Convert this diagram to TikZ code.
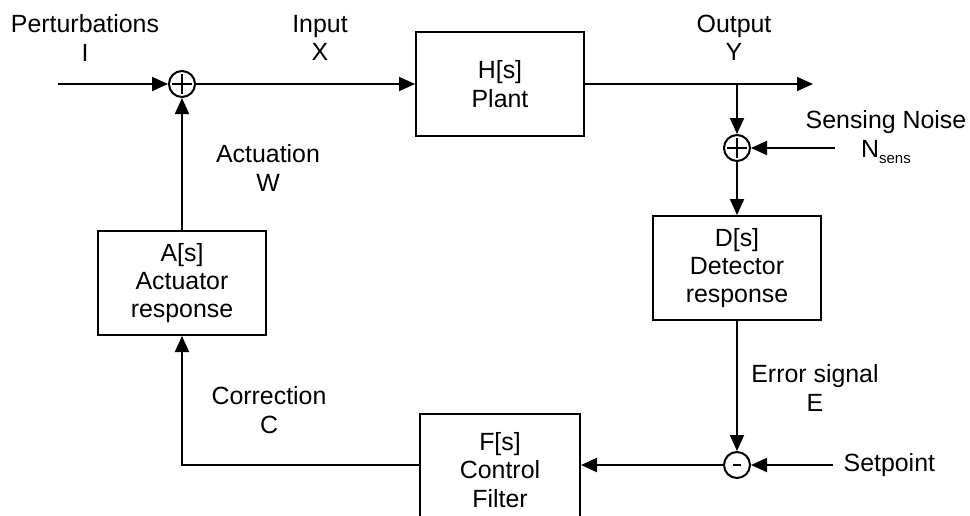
\documentclass[tikz,border=0pt]{standalone}
\usepackage{fontspec}
\setmainfont{Liberation Sans}
\usetikzlibrary{arrows.meta}
\begin{document}
\begin{tikzpicture}[x=0.5pt,y=-0.5pt,line width=1pt,>={Triangle[length=8pt,width=7pt]},
	font=\fontsize{12.45}{14.2}\selectfont,
	block/.style={draw,align=center,minimum width=84pt,minimum height=52pt,inner sep=0pt},
	sumnode/.style={circle,draw,minimum size=13pt,inner sep=0pt},
	sumplus/.style={sumnode,path picture={
		\draw ([xshift=-4.8pt]path picture bounding box.center)--([xshift=4.8pt]path picture bounding box.center)
			([yshift=-4.8pt]path picture bounding box.center)--([yshift=4.8pt]path picture bounding box.center);}},
	summinus/.style={sumnode,path picture={
		\draw ([xshift=-2pt]path picture bounding box.center)--([xshift=2pt]path picture bounding box.center);}},
	lbl/.style={align=center}]
	\clip (0,0) rectangle (970,515);
	% blocks and junctions
	\node[sumplus] (sumin) at (182,84) {};
	\node[block] (plant) at (500,84) {H[s]\\Plant};
	\node[sumplus] (sumnoise) at (737,148) {};
	\node[block] (detector) at (737,268) {D[s]\\Detector\\response};
	\node[summinus] (sumerr) at (737,465) {};
	\node[block,anchor=north,minimum width=80pt,minimum height=56pt] (filter) at (500,413) {F[s]\\Control\\Filter};
	\node[block] (actuator) at (182,283) {A[s]\\Actuator\\response};
	% free ends
	\coordinate (in) at (58,84);
	\coordinate (out) at (813,84);
	\coordinate (branch) at (737,84);
	\coordinate (noise) at (835,148);
	\coordinate (setp) at (833,465);
	% connectors
	\draw[->] (in)--(sumin);
	\draw[->] (sumin)--(plant);
	\draw[->] (plant)--(out);
	\draw[->] (branch)--(sumnoise);
	\draw[->] (noise)--(sumnoise);
	\draw[->] (sumnoise)--(detector);
	\draw[->] (detector)--(sumerr);
	\draw[->] (setp)--(sumerr);
	\draw[->] (sumerr)--(sumerr-|filter.east);
	\draw[->] (filter.west|-sumerr)-|(actuator);
	\draw[->] (actuator)--(sumin);
	% signal labels
	\node[lbl] (pert) at (85,38) {Perturbations\\I};
	\node[lbl] (input) at (320,38) {Input\\X};
	\node[lbl] (output) at (734,38) {Output\\Y};
	\node[lbl] (noiselbl) at (886,137) {Sensing Noise\\N\raisebox{-3pt}{\fontsize{7.5}{8}\selectfont sens}};
	\node[lbl] (act) at (268,168) {Actuation\\W};
	\node[lbl] (err) at (815,388) {Error signal\\E};
	\node[lbl] (corr) at (269,410) {Correction\\C};
	\node[anchor=west] (setlbl) at (836,465) {Setpoint};
\end{tikzpicture}
\end{document}
